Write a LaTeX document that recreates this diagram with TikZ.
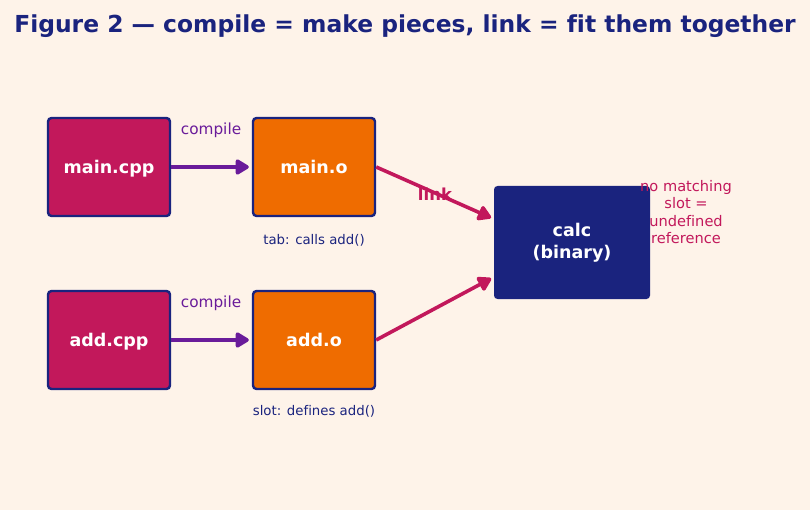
\documentclass[tikz,border=0pt]{standalone}
\usepackage{fontspec}
\setmainfont[Ligatures=NoCommon]{DejaVu Sans}
\usetikzlibrary{arrows.meta}
\definecolor{bg}{HTML}{FEF3E9}
\definecolor{navy}{HTML}{1A237E}
\definecolor{crim}{HTML}{C2185B}
\definecolor{orng}{HTML}{EF6C00}
\definecolor{purp}{HTML}{6A1B9A}
\begin{document}
\begin{tikzpicture}[x=1pt,y=-1pt,
  box/.style={draw=navy,line width=2.4pt,rounded corners=3.5pt,minimum width=122pt,minimum height=98pt,inner sep=0pt,text=white,font=\fontsize{17.5}{21}\selectfont\bfseries,align=center},
  src/.style={box,fill=crim,text depth=0pt},
  obj/.style={box,fill=orng},
  bin/.style={fill=navy,rounded corners=3.5pt,minimum width=156pt,minimum height=113pt,inner sep=0pt,text=white,font=\fontsize{17.5}{21.5}\selectfont\bfseries,align=center},
  comp/.style={draw=purp,line width=3.6pt,-{Triangle[length=15pt,width=17pt,round]},shorten >=3pt},
  lnk/.style={draw=crim,line width=3.6pt,-{Triangle[length=15pt,width=17pt,round]},shorten >=3pt},
  lbl/.style={text=purp,font=\fontsize{15.3}{18}\selectfont},
  note/.style={text=navy,font=\fontsize{13.3}{16}\selectfont}
]
\fill[bg] (0,0) rectangle (810,510);
\useasboundingbox (0,0) rectangle (810,510);
\node[text=navy,font=\fontsize{23.4}{28}\selectfont\bfseries] (title) at (405,26.5) {Figure 2 — compile = make pieces, link = fit them together};
\node[src] (maincpp) at (109,167) {main.cpp};
\node[obj] (maino) at (314,167) {main.o};
\node[src] (addcpp) at (109,340) {add.cpp};
\node[obj] (addo) at (314,340) {add.o};
\node[bin] (calc) at (572,242.5) {calc\\(binary)};
\draw[comp] (maincpp.east) -- (maino.west);
\draw[comp] (addcpp.east) -- (addo.west);
\node[lbl] (c1) at (211,130) {compile};
\node[lbl] (c2) at (211,303) {compile};
\draw[lnk] (maino.east) -- (calc.west |- 0,219);
\draw[lnk] (addo.east) -- (calc.west |- 0,277);
\node[text=crim,font=\fontsize{16.5}{20}\selectfont\bfseries] (link) at (435,194) {link};
\node[note] (n1) at (314,240) {tab: calls add()};
\node[note] (n2) at (314,411) {slot: defines add()};
\node[text=crim,font=\fontsize{14.6}{17.5}\selectfont,align=center] (undef) at (686,212) {no matching\\slot =\\undefined\\reference};
\end{tikzpicture}
\end{document}
